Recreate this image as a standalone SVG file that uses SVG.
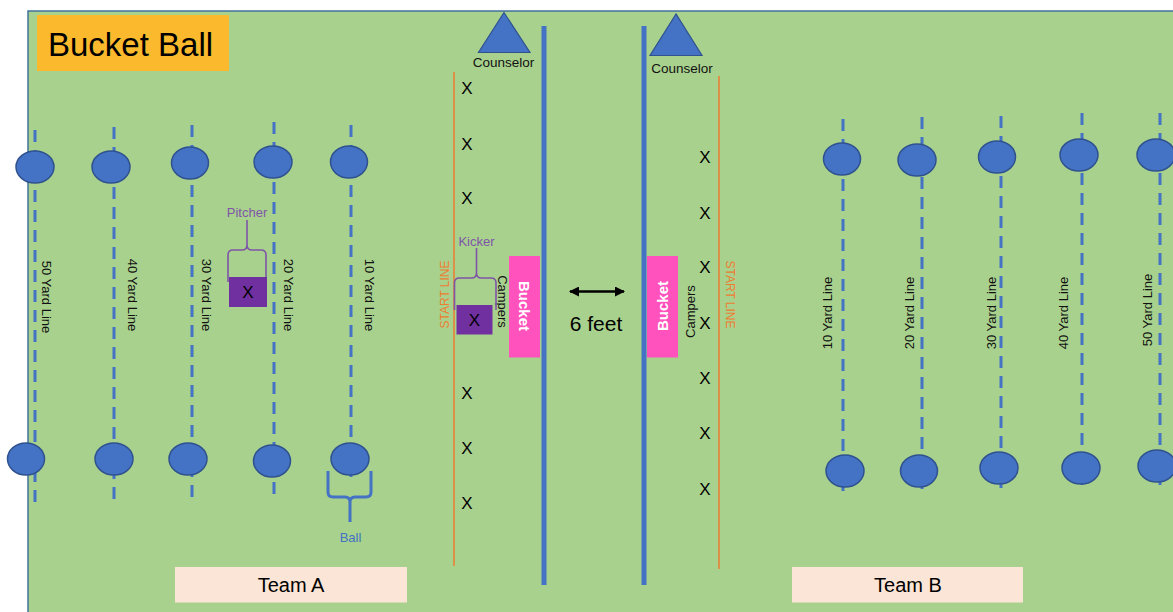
<svg xmlns="http://www.w3.org/2000/svg" width="1173" height="612" viewBox="0 0 1173 612">
<style>
text{font-family:"Liberation Sans",Arial,sans-serif;}
.yl{stroke:#4472C4;stroke-width:3;stroke-dasharray:12 8;fill:none;}
.ball{fill:#4472C4;stroke:#2F528F;stroke-width:1.5;}
.lbl{font-size:13px;fill:#111;text-anchor:middle;dominant-baseline:central;}
.x{font-size:17px;fill:#000;text-anchor:middle;dominant-baseline:central;}
.start{stroke:#ED7D31;stroke-width:1.5;}
.sl{font-size:12px;fill:#ED7D31;text-anchor:middle;dominant-baseline:central;}
.wall{stroke:#4472C4;stroke-width:5;}
.bucket{fill:#FF52BC;}
.bt{font-size:15px;font-weight:bold;fill:#fff;text-anchor:middle;dominant-baseline:central;}
.tri{fill:#4472C4;stroke:#2F528F;stroke-width:1.2;}
.purp{fill:none;stroke:#7F55A8;stroke-width:1.6;}
.pt{font-size:13px;fill:#7F55A8;text-anchor:middle;}
.pbox{fill:#7030A0;}
.team{fill:#FBE5D6;}
.tt{font-size:20px;fill:#000;text-anchor:middle;}
</style>
<defs>
<marker id="ah" viewBox="0 0 10 10" refX="9" refY="5" markerWidth="4" markerHeight="4" orient="auto-start-reverse">
<path d="M0,0 L10,5 L0,10 z" fill="#000"/>
</marker>
</defs>
<rect x="0" y="0" width="1173" height="612" fill="#fff"/>
<g id="field">
<rect x="28" y="11" width="1150" height="610" fill="#A9D18E" stroke="#41719C" stroke-width="1.5"/>
</g>
<g id="title">
<rect x="37" y="15" width="192" height="56" fill="#FBBA2D"/>
<text x="48" y="56" font-size="33" fill="#000">Bucket Ball</text>
</g>
<g id="yard-lines-a">
<line class="yl" x1="35" y1="130" x2="35" y2="510"/>
<line class="yl" x1="114" y1="127" x2="114" y2="507"/>
<line class="yl" x1="192" y1="125" x2="192" y2="505"/>
<line class="yl" x1="274" y1="122" x2="274" y2="502"/>
<line class="yl" x1="351" y1="125" x2="351" y2="482"/>
</g>
<g id="yard-lines-b">
<line class="yl" x1="843" y1="119" x2="843" y2="499"/>
<line class="yl" x1="922" y1="117" x2="922" y2="497"/>
<line class="yl" x1="1001" y1="116" x2="1001" y2="496"/>
<line class="yl" x1="1082" y1="113" x2="1082" y2="493"/>
<line class="yl" x1="1160" y1="113" x2="1160" y2="493"/>
</g>
<g id="balls-a">
<ellipse class="ball" cx="35" cy="167" rx="19" ry="16"/>
<ellipse class="ball" cx="111" cy="167" rx="19" ry="16"/>
<ellipse class="ball" cx="190" cy="163" rx="18.5" ry="16"/>
<ellipse class="ball" cx="273" cy="162" rx="19" ry="16"/>
<ellipse class="ball" cx="349" cy="162" rx="18.5" ry="16"/>
<ellipse class="ball" cx="26" cy="459" rx="18.5" ry="16"/>
<ellipse class="ball" cx="114" cy="459" rx="19" ry="16"/>
<ellipse class="ball" cx="188" cy="459" rx="19" ry="16"/>
<ellipse class="ball" cx="272" cy="461" rx="18.5" ry="16"/>
<ellipse class="ball" cx="350" cy="459" rx="19" ry="16"/>
</g>
<g id="balls-b">
<ellipse class="ball" cx="842" cy="159" rx="18.5" ry="16"/>
<ellipse class="ball" cx="917" cy="160" rx="19" ry="16"/>
<ellipse class="ball" cx="997" cy="157" rx="18.5" ry="16"/>
<ellipse class="ball" cx="1079" cy="155" rx="19" ry="16"/>
<ellipse class="ball" cx="1156" cy="155" rx="19" ry="16"/>
<ellipse class="ball" cx="845" cy="471" rx="19" ry="16"/>
<ellipse class="ball" cx="919" cy="471" rx="18.5" ry="16"/>
<ellipse class="ball" cx="999" cy="468" rx="19" ry="16"/>
<ellipse class="ball" cx="1081" cy="468" rx="19" ry="16"/>
<ellipse class="ball" cx="1157" cy="466" rx="19" ry="16"/>
</g>
<g id="yard-labels-a">
<text class="lbl" transform="translate(46,297) rotate(90)">50 Yard Line</text>
<text class="lbl" transform="translate(132,295) rotate(90)">40 Yard Line</text>
<text class="lbl" transform="translate(206,295) rotate(90)">30 Yard Line</text>
<text class="lbl" transform="translate(288,295) rotate(90)">20 Yard Line</text>
<text class="lbl" transform="translate(369,295) rotate(90)">10 Yard Line</text>
</g>
<g id="yard-labels-b">
<text class="lbl" transform="translate(827,313) rotate(-90)">10 Yard Line</text>
<text class="lbl" transform="translate(909,313) rotate(-90)">20 Yard Line</text>
<text class="lbl" transform="translate(991,313) rotate(-90)">30 Yard Line</text>
<text class="lbl" transform="translate(1063,313) rotate(-90)">40 Yard Line</text>
<text class="lbl" transform="translate(1147,310) rotate(-90)">50 Yard Line</text>
</g>
<g id="pitcher">
<text class="pt" x="247" y="217">Pitcher</text>
<path class="purp" d="M228,282 L228,255 Q228,250 233,250 L242,250 Q247,250 247,245 L247,220 M247,245 Q247,250 252,250 L261,250 Q266,250 266,255 L266,282"/>
<rect class="pbox" x="229" y="277" width="38" height="30"/>
<text class="x" x="248" y="292">X</text>
</g>
<g id="ball-label">
<path d="M328,471 L328,492 Q328,497 333,497 L345,497 Q350,497 350,502 L350,522 M350,502 Q350,497 355,497 L366,497 Q371,497 371,492 L371,471" fill="none" stroke="#4472C4" stroke-width="3"/>
<text x="350.5" y="542" font-size="13" fill="#4472C4" text-anchor="middle">Ball</text>
</g>
<g id="start-line-a">
<line class="start" x1="454" y1="72" x2="454" y2="566"/>
<text class="sl" transform="translate(445,294.5) rotate(-90)">START LINE</text>
</g>
<g id="start-line-b">
<line class="start" x1="719" y1="76" x2="719" y2="569"/>
<text class="sl" transform="translate(730,294.5) rotate(90)">START LINE</text>
</g>
<g id="walls">
<line class="wall" x1="544" y1="26" x2="544" y2="585"/>
<line class="wall" x1="644" y1="26" x2="644" y2="585"/>
</g>
<g id="counselor-a">
<polygon class="tri" points="504,12.5 478.5,52.5 530,52.5"/>
<text x="503.5" y="67" font-size="13.5" fill="#111" text-anchor="middle">Counselor</text>
</g>
<g id="counselor-b">
<polygon class="tri" points="676,14 650,55.5 702,55.5"/>
<text x="682" y="72.5" font-size="13.5" fill="#111" text-anchor="middle">Counselor</text>
</g>
<g id="campers-a">
<text class="x" x="467" y="88">X</text>
<text class="x" x="467" y="144">X</text>
<text class="x" x="467" y="198">X</text>
<text class="x" x="467" y="393">X</text>
<text class="x" x="467" y="448">X</text>
<text class="x" x="467" y="503">X</text>
<text class="lbl" transform="translate(502,301.5) rotate(90)">Campers</text>
</g>
<g id="kicker">
<text class="pt" x="476.5" y="246">Kicker</text>
<path class="purp" d="M454.5,310 L454.5,283 Q454.5,278 459.5,278 L471.5,278 Q476.5,278 476.5,273 L476.5,248 M476.5,273 Q476.5,278 481.5,278 L491,278 Q496,278 496,283 L496,310"/>
<rect class="pbox" x="456.5" y="305" width="36" height="29.5"/>
<text class="x" x="474.5" y="320">X</text>
</g>
<g id="campers-b">
<text class="x" x="705" y="157">X</text>
<text class="x" x="705" y="213">X</text>
<text class="x" x="705" y="267">X</text>
<text class="x" x="705" y="323">X</text>
<text class="x" x="705" y="378">X</text>
<text class="x" x="705" y="433">X</text>
<text class="x" x="705" y="489">X</text>
<text class="lbl" transform="translate(690,311.5) rotate(-90)">Campers</text>
</g>
<g id="bucket-a">
<rect class="bucket" x="509" y="256" width="31" height="101.5"/>
<text class="bt" transform="translate(524.5,306) rotate(90)">Bucket</text>
</g>
<g id="bucket-b">
<rect class="bucket" x="647" y="256" width="31" height="101.5"/>
<text class="bt" transform="translate(662,306) rotate(-90)">Bucket</text>
</g>
<g id="connectors">
<line x1="570" y1="291.5" x2="624" y2="291.5" stroke="#000" stroke-width="2.5" marker-start="url(#ah)" marker-end="url(#ah)"/>
</g>
<g id="distance-label">
<text x="596" y="331" font-size="21" fill="#000" text-anchor="middle">6 feet</text>
</g>
<g id="team-a">
<rect class="team" x="175" y="567" width="232" height="35.5"/>
<text class="tt" x="291" y="592">Team A</text>
</g>
<g id="team-b">
<rect class="team" x="792" y="567" width="231" height="35.5"/>
<text class="tt" x="908" y="592">Team B</text>
</g>
</svg>
